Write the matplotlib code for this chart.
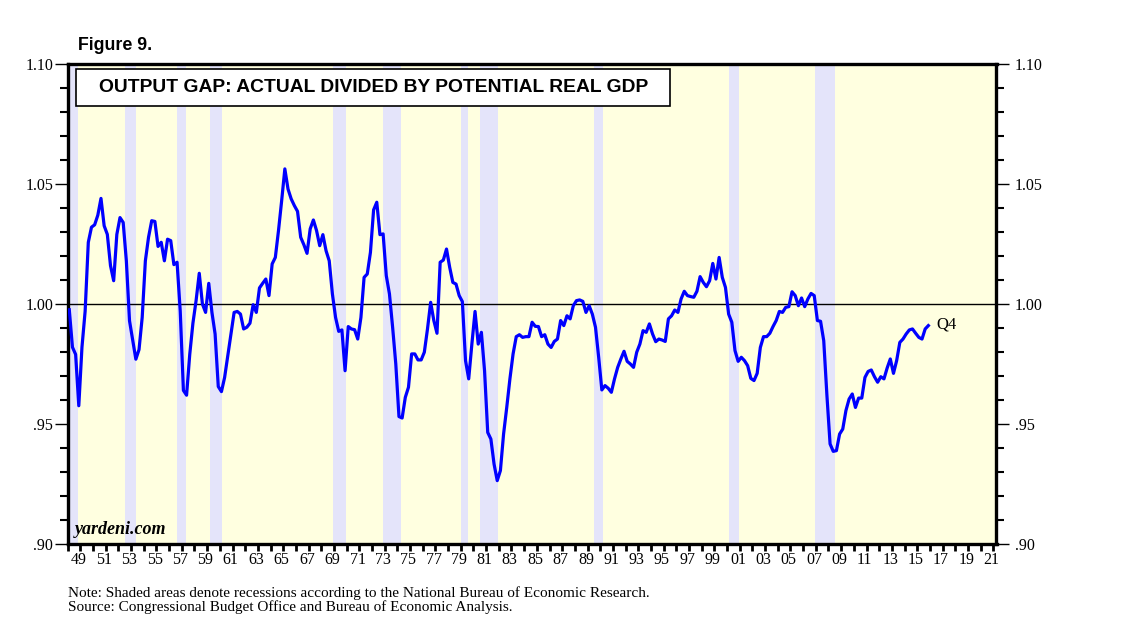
import numpy as np
import matplotlib
matplotlib.use("Agg")
import matplotlib.pyplot as plt
import matplotlib.transforms as mtransforms
from matplotlib.patches import Rectangle
from matplotlib.ticker import FixedLocator, MultipleLocator

# actual / potential real GDP, quarterly from 1949Q1 to 2016Q4
start_year = 1949
gap = [
    0.9976, 0.982, 0.979, 0.9576, 0.982, 0.997, 1.0257, 1.032, 1.033, 1.037,
    1.044, 1.0326, 1.029, 1.016, 1.0097, 1.029, 1.036, 1.034, 1.018, 0.993,
    0.985, 0.977, 0.981, 0.9944, 1.018, 1.0278, 1.0347, 1.0344, 1.024, 1.0257,
    1.018, 1.027, 1.0264, 1.0164, 1.0174, 0.997, 0.964, 0.962, 0.979, 0.992,
    1.0014, 1.0128, 1.000, 0.9965, 1.0086, 0.9965, 0.9875, 0.9656, 0.9635, 0.9694,
    0.9785, 0.9875, 0.9965, 0.9969, 0.9958, 0.9896, 0.9903, 0.992, 0.9997, 0.9965,
    1.0067, 1.0086, 1.0104, 1.0035, 1.0167, 1.0194, 1.0306, 1.0431, 1.0563, 1.0479,
    1.0438, 1.041, 1.0386, 1.0278, 1.0247, 1.0211, 1.0313, 1.035, 1.0306, 1.0243,
    1.0289, 1.0222, 1.018, 1.0042, 0.9944, 0.9886, 0.9892, 0.9722, 0.9906, 0.9896,
    0.9893, 0.9854, 0.9944, 1.0111, 1.0125, 1.0215, 1.0392, 1.0424, 1.0289, 1.0292,
    1.0118, 1.0042, 0.9903, 0.975, 0.9531, 0.9525, 0.9611, 0.9653, 0.9792, 0.9792,
    0.9767, 0.9767, 0.9799, 0.9896, 1.0007, 0.9931, 0.9878, 1.0174, 1.0183, 1.0229,
    1.0153, 1.009, 1.0083, 1.0035, 1.001, 0.9764, 0.9688, 0.9833, 0.9969, 0.9833,
    0.9882, 0.9722, 0.9465, 0.9437, 0.9333, 0.9264, 0.9306, 0.9458, 0.9569, 0.9688,
    0.9792, 0.9864, 0.9872, 0.9861, 0.9864, 0.9864, 0.9924, 0.9907, 0.9906, 0.9864,
    0.9872, 0.9833, 0.9819, 0.9844, 0.9854, 0.9931, 0.9910, 0.9951, 0.9938, 0.9993,
    1.0014, 1.0017, 1.0011, 0.9965, 0.9993, 0.9958, 0.9903, 0.9778, 0.9642, 0.966,
    0.9649, 0.9632, 0.9688, 0.9736, 0.9771, 0.9803, 0.9761, 0.975, 0.9736, 0.9799,
    0.9833, 0.9889, 0.9882, 0.9917, 0.9875, 0.9843, 0.9854, 0.985, 0.9844, 0.9938,
    0.9951, 0.9975, 0.9965, 1.0021, 1.0053, 1.0035, 1.0031, 1.0028, 1.0053, 1.0114,
    1.009, 1.0072, 1.0097, 1.0169, 1.0104, 1.0194, 1.0111, 1.0069, 0.9958, 0.9924,
    0.9806, 0.9761, 0.9778, 0.9764, 0.9743, 0.969, 0.9681, 0.9711, 0.9819, 0.9864,
    0.9864, 0.9878, 0.9906, 0.9931, 0.9969, 0.9965, 0.9986, 0.9989, 1.0051, 1.0035,
    0.9993, 1.0025, 0.9989, 1.0021, 1.0044, 1.0035, 0.9931, 0.9928, 0.9847, 0.962,
    0.9417, 0.9386, 0.9389, 0.9458, 0.9479, 0.9556, 0.9604, 0.9625, 0.9569, 0.9608,
    0.9608, 0.9694, 0.9719, 0.9725, 0.9697, 0.9674, 0.9697, 0.9688, 0.9733, 0.9771,
    0.9711, 0.9764, 0.984, 0.9854, 0.9875, 0.9892, 0.9896, 0.9878, 0.9861, 0.9854,
    0.9896, 0.991,
]

# NBER recessions: (peak year, month, trough year, month)
recessions = [
    (1948, 11, 1949, 10), (1953, 7, 1954, 5), (1957, 8, 1958, 4),
    (1960, 4, 1961, 2), (1969, 12, 1970, 11), (1973, 11, 1975, 3),
    (1980, 1, 1980, 7), (1981, 7, 1982, 11), (1990, 7, 1991, 3),
    (2001, 3, 2001, 11), (2007, 12, 2009, 6),
]

year_ticks = list(range(1949, 2022, 2))
year_labels = ["%02d" % (y % 100) for y in year_ticks]
y_ticks = [0.90, 0.95, 1.00, 1.05, 1.10]
y_labels = [".90", ".95", "1.00", "1.05", "1.10"]

W, H = 1138, 637
fig = plt.figure(figsize=(W / 100, H / 100), dpi=100)
ax = fig.add_axes([67.7 / W, 1 - 544 / H, (996.5 - 67.7) / W, (544 - 64) / H])
ax.set_facecolor("#FFFFE0")

serif = ["Liberation Serif", "DejaVu Serif"]
sans = ["Liberation Sans", "DejaVu Sans"]

for py, pm, ty, tm in recessions:
    ax.axvspan(py + (pm - 1) / 12, ty + tm / 12, color="#E4E4FA", lw=0, zorder=0)

t = start_year + np.arange(len(gap)) / 4 + 0.125
ax.plot(t, gap, color="#0000FF", lw=2.3, zorder=3, solid_joinstyle="round")
ax.axhline(1.0, color="black", lw=1.0, zorder=2)

ax.set_xlim(1949, 2022.25)
ax.set_ylim(0.90, 1.10)

for s in ax.spines.values():
    s.set_linewidth(2.4)

# x axis: tick every year, labels on odd years starting at the tick
ax.xaxis.set_major_locator(FixedLocator(year_ticks))
ax.xaxis.set_minor_locator(MultipleLocator(1))
ax.set_xticklabels(year_labels, fontfamily=serif, fontsize=11.5, ha="left")
ax.tick_params(axis="x", which="both", direction="out", length=5, width=2, pad=1)
shift = mtransforms.ScaledTranslation(3 / 100, 0, fig.dpi_scale_trans)
for lab in ax.get_xticklabels():
    lab.set_transform(lab.get_transform() + shift)

# y axis both sides
ax.set_yticks(y_ticks)
ax.set_yticklabels(y_labels, fontfamily=serif, fontsize=11.5)
ax.yaxis.set_minor_locator(MultipleLocator(0.01))
ax.tick_params(axis="y", which="major", direction="out", length=9.5, width=1,
               left=True, right=True, labelleft=True, labelright=True, pad=1)
ax.tick_params(axis="y", which="minor", direction="out", length=6, width=1.5,
               left=True, right=True)
rshift = mtransforms.ScaledTranslation(4 / 100, 0, fig.dpi_scale_trans)
for tk in ax.yaxis.get_major_ticks():
    tk.label2.set_transform(tk.label2.get_transform() + rshift)

# title box inside the plot
fig.patches.append(Rectangle((76 / W, 1 - 106 / H), (670 - 76) / W, 37 / H,
                             transform=fig.transFigure, facecolor="white",
                             edgecolor="black", lw=1.2, zorder=5))
fig.text(374 / W, 1 - 88 / H, "OUTPUT GAP: ACTUAL DIVIDED BY POTENTIAL REAL GDP",
         ha="center", va="center", fontsize=13.9, fontweight="bold",
         fontfamily=sans, zorder=6)

fig.text(78 / W, 1 - 45 / H, "Figure 9.", ha="left", va="center", fontsize=12.8,
         fontweight="bold", fontfamily=sans)
ax.text(0.008, 0.012, "yardeni.com", transform=ax.transAxes, ha="left", va="bottom",
        fontsize=13, fontweight="bold", fontstyle="italic", fontfamily=serif)
ax.annotate("Q4", xy=(t[-1], gap[-1]), xytext=(6, 1), textcoords="offset points",
            ha="left", va="center", fontsize=12, fontfamily=serif)

fig.text(68 / W, 1 - 593 / H,
         "Note: Shaded areas denote recessions according to the National Bureau of Economic Research.",
         ha="left", va="center", fontsize=11, fontfamily=serif)
fig.text(68 / W, 1 - 607 / H,
         "Source: Congressional Budget Office and Bureau of Economic Analysis.",
         ha="left", va="center", fontsize=11, fontfamily=serif)

fig.savefig("out.png", dpi=100, facecolor="white")
